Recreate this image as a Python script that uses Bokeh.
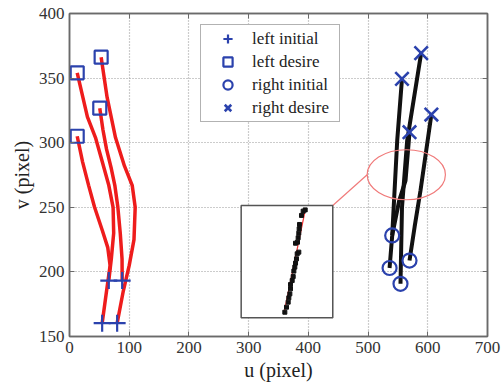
from bokeh.plotting import figure
from bokeh.models import (Range1d, LinearAxis, FixedTicker, Legend, LegendItem)
from bokeh.embed import file_html
from bokeh.resources import INLINE

# ---------------- data ----------------
x_ticks = [0, 100, 200, 300, 400, 500, 600, 700]
y_ticks = [150, 200, 250, 300, 350, 400]
x_title = "u (pixel)"
y_title = "v (pixel)"

# left camera trajectories (u, v)
left_u = [
    [12.9, 22, 32, 42, 55, 64, 68, 62, 54.7],
    [12.9, 30, 43.5, 55, 65.8, 73, 74, 70, 65.8],
    [50.7, 56, 62, 70, 75.9, 81, 85, 88, 88.2],
    [53, 63, 77, 92, 105, 110, 108, 100, 90, 79.8],
]
left_v = [
    [305, 285, 267, 250, 232, 219, 205, 185, 160.3],
    [354.1, 320, 304, 285, 267, 250, 230, 210, 193.3],
    [326.7, 310, 295, 280, 267, 250, 230, 210, 193.3],
    [366.2, 335, 304, 282, 267, 250, 225, 205, 185, 160.3],
]
# right camera trajectories (u, v)
right_u = [
    [536, 540.4, 548.8, 556.8],
    [540.4, 552, 562.7, 569.4],
    [554.3, 556.8, 565.5, 588.9],
    [569.4, 578, 587.8, 606],
]
right_v = [
    [203, 228, 301.7, 349.4],
    [228.2, 255, 270.7, 308.1],
    [190.8, 250, 301.7, 369.3],
    [208.8, 235, 263, 321.8],
]

left_init_u = [54.7, 65.8, 88.2, 79.8]
left_init_v = [160.3, 193.3, 193.3, 160.3]
left_des_u = [12.9, 12.9, 50.7, 53]
left_des_v = [305, 354.1, 326.7, 366.2]
right_init_u = [536, 540.4, 554.3, 569.4]
right_init_v = [203, 228.2, 190.8, 208.8]
right_des_u = [556.8, 569.4, 588.9, 606]
right_des_v = [349.4, 308.1, 369.3, 321.8]

# highlight ellipse (center u, v, width, height)
ell_u, ell_v, ell_w, ell_h = 564, 275.2, 131, 38.7
# inset box (u0, u1, v0, v1)
inset_u0, inset_u1, inset_v0, inset_v1 = 287.5, 440.9, 164.5, 251.4
# inset zoomed dots
inset_dot_u = [360.6, 363.4, 366.2, 367.3, 369.0, 370.1, 370.1, 372.9, 374.6, 375.7,
               377.3, 378.5, 380.1, 381.3, 384.0, 378.5, 381.8, 382.9, 384.0, 384.6,
               385.2, 388.5, 391.3, 394.7]
inset_dot_v = [168.8, 172.7, 176.6, 179.9, 183.0, 186.9, 190.2, 193.3, 196.4, 200.6,
               203.7, 206.8, 210.1, 214.0, 215.3, 222.2, 223.0, 226.4, 230.0, 233.3,
               236.7, 243.7, 247.0, 248.0]
inset_line_u = [358.9, 395.2]
inset_line_v = [167.6, 248.8]

legend_labels = ["left initial", "left desire", "right initial", "right desire"]

# ---------------- figure ----------------
BLUE = "#2b42ad"
SERIF = "Liberation Serif"
FRAME = "#6a6a6a"

p = figure(width=501, height=387, output_backend="svg", toolbar_location=None,
           x_range=Range1d(0, 700), y_range=Range1d(150, 400),
           min_border_left=69, min_border_right=14, min_border_top=13, min_border_bottom=51,
           background_fill_color="white", border_fill_color="white")
p.outline_line_color = FRAME
p.outline_line_width = 1.5

p.xaxis.ticker = FixedTicker(ticks=x_ticks)
p.yaxis.ticker = FixedTicker(ticks=y_ticks)
p.axis.major_label_text_font = SERIF
p.axis.major_label_text_font_size = "17px"
p.axis.major_label_text_color = "#333333"
p.axis.axis_line_color = FRAME
p.axis.axis_line_width = 1.5
p.axis.major_tick_in = 5
p.axis.major_tick_out = 0
p.axis.major_tick_line_color = FRAME
p.axis.minor_tick_line_color = None
p.axis.major_label_standoff = 5
p.axis.axis_label_text_font = SERIF
p.axis.axis_label_text_font_size = "20px"
p.axis.axis_label_text_font_style = "normal"
p.axis.axis_label_text_color = "#222222"
p.axis.axis_label_standoff = 3
p.xaxis.axis_label = x_title
p.yaxis.axis_label = y_title

top_ax = LinearAxis(ticker=FixedTicker(ticks=x_ticks),
                    major_label_overrides={t: "" for t in x_ticks},
                    major_tick_in=5, major_tick_out=0, major_tick_line_color=FRAME,
                    minor_tick_line_color=None, axis_line_color=FRAME, axis_line_width=1.5,
                    major_label_standoff=0)
right_ax = LinearAxis(ticker=FixedTicker(ticks=y_ticks),
                      major_label_overrides={t: "" for t in y_ticks},
                      major_tick_in=5, major_tick_out=0, major_tick_line_color=FRAME,
                      minor_tick_line_color=None, axis_line_color=FRAME, axis_line_width=1.5,
                      major_label_standoff=0)
p.add_layout(top_ax, "above")
p.add_layout(right_ax, "right")

p.xgrid.ticker = FixedTicker(ticks=x_ticks)
p.ygrid.ticker = FixedTicker(ticks=y_ticks)
p.grid.grid_line_color = "#999999"
p.grid.grid_line_dash = "1 2"
p.grid.grid_line_width = 1.2

# trajectories
for us, vs in zip(left_u, left_v):
    p.line(us, vs, line_color="#ee1c1c", line_width=3.5)
for us, vs in zip(right_u, right_v):
    p.line(us, vs, line_color="#111111", line_width=4)

# highlight ellipse and inset
p.ellipse(x=[ell_u], y=[ell_v], width=[ell_w], height=[ell_h],
          fill_color=None, line_color="#f07a7a", line_width=1.2)
p.line([inset_u1, ell_u - ell_w / 2], [inset_v1, ell_v], line_color="#f07a7a", line_width=1.2)
p.quad(left=[inset_u0], right=[inset_u1], bottom=[inset_v0], top=[inset_v1],
       fill_color="white", line_color="#555555", line_width=1.5)
p.line(inset_line_u, inset_line_v, line_color="#ee3333", line_width=1.2)
p.scatter(inset_dot_u, inset_dot_v, marker="square", size=4, fill_color="#111111",
          line_color="#111111")

# markers
r1 = p.scatter(left_init_u, left_init_v, marker="cross", size=17, line_color=BLUE, line_width=2.2)
r2 = p.scatter(left_des_u, left_des_v, marker="square", size=13, fill_color=None,
               line_color=BLUE, line_width=2.2)
r3 = p.scatter(right_init_u, right_init_v, marker="circle", size=14, fill_color=None,
               line_color=BLUE, line_width=2.2)
r4 = p.scatter(right_des_u, right_des_v, marker="x", size=19, line_color=BLUE, line_width=2.6)

legend = Legend(items=[LegendItem(label=lab, renderers=[r]) for lab, r in
                       zip(legend_labels, [r1, r2, r3, r4])],
                location=(131, 214), orientation="vertical",
                label_text_font=SERIF, label_text_font_size="17px", label_text_color="#222222",
                glyph_width=49, glyph_height=23, label_height=20, spacing=0,
                padding=2, margin=0, label_standoff=0, label_width=85,
                border_line_color="#666666", border_line_width=1.2,
                background_fill_color="white", background_fill_alpha=1)
p.add_layout(legend, "center")

open("out.html", "w").write(file_html(p, INLINE))
